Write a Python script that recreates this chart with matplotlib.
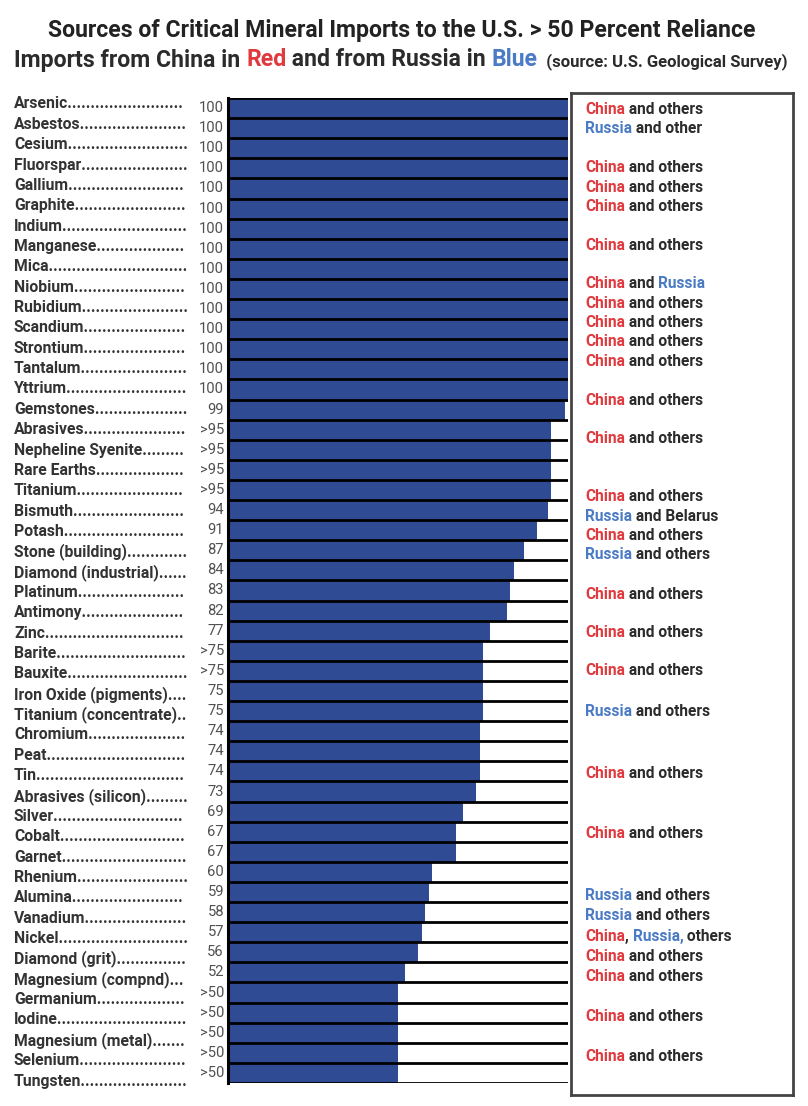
import matplotlib
matplotlib.use('Agg')
import matplotlib.pyplot as plt
from matplotlib.text import Annotation

plt.rcParams['font.family'] = ['Roboto', 'DejaVu Sans']

# ---------------- data ----------------
minerals = ["Arsenic", "Asbestos", "Cesium", "Fluorspar", "Gallium", "Graphite",
            "Indium", "Manganese", "Mica", "Niobium", "Rubidium", "Scandium",
            "Strontium", "Tantalum", "Yttrium", "Gemstones", "Abrasives",
            "Nepheline Syenite", "Rare Earths", "Titanium", "Bismuth", "Potash",
            "Stone (building)", "Diamond (industrial)", "Platinum", "Antimony",
            "Zinc", "Barite", "Bauxite", "Iron Oxide (pigments)",
            "Titanium (concentrate)", "Chromium", "Peat", "Tin",
            "Abrasives (silicon)", "Silver", "Cobalt", "Garnet", "Rhenium",
            "Alumina", "Vanadium", "Nickel", "Diamond (grit)",
            "Magnesium (compnd)", "Germanium", "Iodine", "Magnesium (metal)",
            "Selenium", "Tungsten"]
values = [100, 100, 100, 100, 100, 100, 100, 100, 100, 100, 100, 100, 100, 100,
          100, 99, 95, 95, 95, 95, 94, 91, 87, 84, 83, 82, 77, 75, 75, 75, 75,
          74, 74, 74, 73, 69, 67, 67, 60, 59, 58, 57, 56, 52, 50, 50, 50, 50, 50]
value_labels = ["100"] * 15 + ["99", ">95", ">95", ">95", ">95", "94", "91",
                "87", "84", "83", "82", "77", ">75", ">75", "75", "75", "74",
                "74", "74", "73", "69", "67", "67", "60", "59", "58", "57",
                "56", "52", ">50", ">50", ">50", ">50", ">50"]

# source notes in the right-hand box (row position, text pieces with colour key)
note_rows = [0.05, 1.0, 2.95, 3.95, 4.9, 6.85, 8.75, 9.7, 10.65, 11.6, 12.6,
             14.55, 16.45, 19.3, 20.3, 21.25, 22.2, 24.2, 26.1, 28.0, 30.0,
             33.1, 36.1, 39.15, 40.15, 41.2, 42.2, 43.2, 45.2, 47.2]
CO = [("China", "c"), (" and others", "k")]
RO = [("Russia", "r"), (" and others", "k")]
note_parts = [CO, [("Russia", "r"), (" and other", "k")], CO, CO, CO, CO,
              [("China", "c"), (" and ", "k"), ("Russia", "r")],
              CO, CO, CO, CO, CO, CO, CO,
              [("Russia", "r"), (" and Belarus", "k")], CO, RO, CO, CO, CO,
              RO, CO, CO, RO, RO,
              [("China", "c"), (", ", "k"), ("Russia,", "r"), (" others", "k")],
              CO, CO, CO, CO]

title1 = "Sources of Critical Mineral Imports to the U.S. > 50 Percent Reliance"
title2 = [("Imports from China in ", "k"), ("Red", "c"),
          (" and from Russia in ", "k"), ("Blue", "r")]
source = "  (source: U.S. Geological Survey)"

# ---------------- style ----------------
W, H = 808, 1106
BAR_BLUE = "#2f4b93"
COLORS = {"c": "#e0393e", "r": "#4a7bc4", "k": "#2b2b2b"}
LABEL_COLOR = "#333333"
VALUE_COLOR = "#505050"

fig = plt.figure(figsize=(W / 100, H / 100), dpi=100)
fig.patch.set_facecolor("white")
renderer = fig.canvas.get_renderer()


def fig_rect(x0, y0, x1, y1):
    return [x0 / W, 1 - y1 / H, (x1 - x0) / W, (y1 - y0) / H]


n = len(minerals)
rows = list(range(n))

# ---------------- right-hand source box (drawn underneath) ----------------
axb = fig.add_axes(fig_rect(571, 93, 793, 1095))
axb.set_xticks([])
axb.set_yticks([])
axb.set_zorder(0)
for s in axb.spines.values():
    s.set_linewidth(2.0)
    s.set_color("#444444")

# ---------------- bars ----------------
ax = fig.add_axes(fig_rect(228, 98, 568, 1083))
ax.set_zorder(2)
ax.set_xlim(0, 100)
ax.set_ylim(n - 0.5, -0.5)
ax.barh(rows, [100] * n, height=1.0, color="white", edgecolor="none", zorder=1)
ax.barh(rows, values, height=1.0, color=BAR_BLUE, edgecolor="none", zorder=2)
ax.hlines([r - 0.5 for r in rows] + [n - 0.5], 0, 100, colors="black",
          linewidth=2.0, zorder=3)
for s in ["top", "right", "bottom"]:
    ax.spines[s].set_visible(False)
ax.spines["left"].set_linewidth(2.2)
ax.spines["left"].set_color("black")
ax.spines["left"].set_zorder(4)
ax.set_xticks([])
ax.set_yticks([])

for r, lab in zip(rows, value_labels):
    ax.annotate(lab, xy=(0, r), xytext=(-4, 0), textcoords="offset pixels",
                ha="right", va="center", fontsize=10.6, color=VALUE_COLOR,
                annotation_clip=False)

# ---------------- mineral labels with dot leaders ----------------
axl = fig.add_axes(fig_rect(0, 93.8, W, 1091.2))
axl.set_zorder(1)
axl.set_xlim(0, W)
axl.set_ylim(n - 0.5, -0.5)
axl.axis("off")
target_px = 188
lab_kw = dict(ha="left", va="center", fontsize=11.3, fontweight="bold",
              color=LABEL_COLOR)
probe = axl.text(0, 0, "." * 20, **lab_kw)
dot_w = probe.get_window_extent(renderer).width / 20
probe.remove()
for r, name in zip(rows, minerals):
    t = axl.text(14, r, name, **lab_kw)
    w = t.get_window_extent(renderer).width
    ndots = max(0, int((target_px - 14 - w) / dot_w))
    t.set_text(name + "." * ndots)

# ---------------- source notes ----------------
note_kw = dict(fontsize=11.2, fontweight="bold", annotation_clip=False)
for r, parts in zip(note_rows, note_parts):
    prev = None
    for txt, ck in parts:
        if prev is None:
            prev = ax.annotate(txt, xy=(1, r), xycoords=("axes fraction", "data"),
                               xytext=(17, 0), textcoords="offset pixels",
                               ha="left", va="center", color=COLORS[ck],
                               **note_kw)
        else:
            prev = ax.annotate(txt, xy=(1, 0), xycoords=prev, ha="left",
                               va="bottom", color=COLORS[ck], **note_kw)

# ---------------- titles ----------------
TS = 16.6
fig.text(402 / W, 1 - 31 / H, title1, ha="center", va="center",
         fontsize=TS, fontweight="bold", color="#222222")
anchor = fig.text(14 / W, 1 - 60 / H, title2[0][0], ha="left", va="center",
                  fontsize=TS, fontweight="bold", color=COLORS[title2[0][1]])
for txt, ck in title2[1:]:
    anchor = fig.add_artist(Annotation(
        txt, xy=(1, 0), xycoords=anchor, ha="left", va="bottom",
        fontsize=TS, fontweight="bold", color=COLORS[ck],
        annotation_clip=False))
fig.add_artist(Annotation(
    source, xy=(1, 0.08), xycoords=anchor, ha="left", va="bottom",
    fontsize=12.0, fontweight="bold", color="#2b2b2b", annotation_clip=False))

fig.savefig("out.png", dpi=100, facecolor="white")
